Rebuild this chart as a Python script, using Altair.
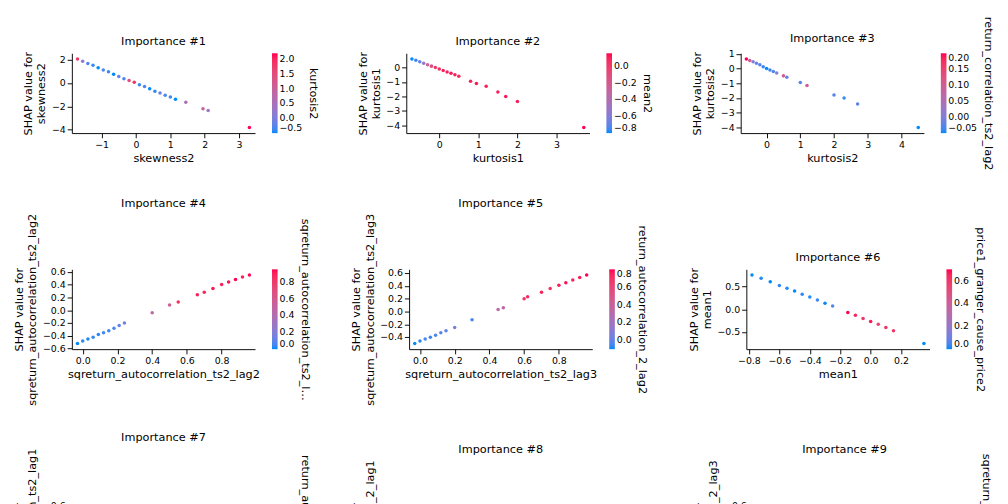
import altair as alt
import pandas as pd

# panel data: feature on x, SHAP value on y, interaction feature for colour
p1_x = [-1.7, -1.55, -1.4, -1.25, -1.1, -0.95, -0.8, -0.65, -0.5, -0.35, -0.2, -0.05, 0.1, 0.25, 0.4, 0.55, 0.7, 0.85, 1.0, 1.15, 1.45, 1.95, 2.1, 3.3]
p1_y = [2.05, 1.85, 1.65, 1.5, 1.3, 1.1, 0.95, 0.75, 0.55, 0.35, 0.2, 0.05, -0.15, -0.3, -0.5, -0.7, -0.85, -1.05, -1.2, -1.4, -1.65, -2.2, -2.35, -3.8]
p1_c = [1.8, 0.2, -0.3, -0.4, -0.5, -0.3, -0.4, -0.5, -0.2, -0.3, 1.5, 1.9, -0.4, -0.3, -0.5, -0.4, -0.2, -0.3, -0.4, -0.5, 0.6, 0.9, 0.3, 2.2]

p2_x = [-0.7, -0.6, -0.5, -0.4, -0.3, -0.2, -0.1, 0.0, 0.1, 0.2, 0.3, 0.4, 0.5, 0.8, 0.95, 1.2, 1.5, 1.7, 2.0, 3.7]
p2_y = [0.6, 0.5, 0.4, 0.3, 0.2, 0.1, 0.0, -0.1, -0.2, -0.3, -0.4, -0.5, -0.6, -0.95, -1.1, -1.3, -1.7, -2.0, -2.35, -4.15]
p2_c = [-0.8, -0.75, -0.7, -0.5, -0.3, -0.1, 0.0, 0.05, 0.1, 0.1, 0.12, 0.1, 0.08, 0.1, 0.12, 0.1, 0.1, 0.12, 0.1, 0.15]

p3_x = [-0.6, -0.5, -0.4, -0.3, -0.2, -0.1, 0.0, 0.1, 0.2, 0.3, 0.5, 0.6, 1.0, 1.2, 2.0, 2.3, 2.7, 4.5]
p3_y = [0.65, 0.55, 0.45, 0.35, 0.25, 0.12, 0.0, -0.1, -0.2, -0.3, -0.5, -0.6, -0.95, -1.15, -1.8, -2.0, -2.4, -4.0]
p3_c = [0.2, 0.1, 0.0, -0.02, -0.03, -0.04, -0.05, -0.04, -0.03, 0.0, 0.1, -0.02, -0.03, 0.1, -0.03, -0.04, -0.02, -0.05]

p4_x = [-0.03, 0.0, 0.03, 0.06, 0.09, 0.12, 0.15, 0.18, 0.21, 0.24, 0.4, 0.5, 0.55, 0.66, 0.7, 0.75, 0.8, 0.84, 0.88, 0.92, 0.96]
p4_y = [-0.52, -0.48, -0.45, -0.42, -0.38, -0.35, -0.32, -0.28, -0.24, -0.2, -0.04, 0.08, 0.13, 0.24, 0.28, 0.34, 0.4, 0.44, 0.48, 0.52, 0.55]
p4_c = [0.0, 0.02, 0.01, 0.03, 0.02, 0.05, 0.04, 0.06, 0.1, 0.15, 0.45, 0.55, 0.85, 0.9, 0.88, 0.92, 0.9, 0.93, 0.95, 0.9, 0.94]

p5_x = [-0.03, 0.0, 0.03, 0.06, 0.09, 0.12, 0.15, 0.2, 0.3, 0.45, 0.48, 0.6, 0.62, 0.7, 0.75, 0.8, 0.84, 0.88, 0.92, 0.96]
p5_y = [-0.5, -0.46, -0.43, -0.4, -0.37, -0.33, -0.3, -0.25, -0.13, 0.03, 0.06, 0.2, 0.23, 0.3, 0.36, 0.41, 0.45, 0.49, 0.53, 0.57]
p5_c = [-0.1, -0.08, -0.05, -0.06, -0.04, -0.02, 0.0, 0.05, -0.05, 0.3, 0.35, 0.7, 0.72, 0.75, 0.7, 0.76, 0.78, 0.74, 0.76, 0.8]

p6_x = [-0.78, -0.72, -0.66, -0.6, -0.55, -0.5, -0.45, -0.4, -0.35, -0.3, -0.25, -0.15, -0.1, -0.05, 0.0, 0.05, 0.1, 0.15, 0.35]
p6_y = [0.75, 0.68, 0.6, 0.52, 0.46, 0.4, 0.33, 0.27, 0.2, 0.13, 0.07, -0.07, -0.13, -0.2, -0.27, -0.33, -0.4, -0.47, -0.75]
p6_c = [0.0, 0.01, 0.0, 0.02, 0.01, 0.0, 0.02, 0.01, 0.03, 0.0, 0.05, 0.7, 0.65, 0.6, 0.68, 0.55, 0.62, 0.6, 0.0]

p7_x = [0.0, 0.03, 0.06, 0.09, 0.12, 0.15, 0.2, 0.25, 0.3, 0.45, 0.55, 0.6, 0.7, 0.75, 0.8, 0.84, 0.88, 0.92, 0.96]
p7_y = [-0.45, -0.42, -0.39, -0.36, -0.33, -0.3, -0.25, -0.2, -0.15, 0.0, 0.1, 0.16, 0.26, 0.31, 0.37, 0.41, 0.45, 0.5, 0.54]
p7_c = [-0.05, -0.08, -0.06, -0.04, -0.05, -0.03, -0.02, 0.0, 0.02, 0.35, 0.7, 0.72, 0.75, 0.7, 0.78, 0.74, 0.76, 0.75, 0.8]

p8_x = [-0.12, -0.08, -0.04, 0.0, 0.04, 0.08, 0.12, 0.2, 0.3, 0.4, 0.45, 0.5, 0.55, 0.6, 0.65, 0.7, 0.75, 0.8, 0.9]
p8_y = [-0.4, -0.37, -0.33, -0.3, -0.27, -0.23, -0.2, -0.12, -0.05, 0.05, 0.1, 0.15, 0.2, 0.27, 0.32, 0.37, 0.43, 0.5, 0.62]
p8_c = [0.15, 0.1, 0.12, 0.1, 0.08, 0.1, 0.05, -0.2, -0.3, -0.5, -0.55, -0.6, -0.65, -0.7, -0.75, -0.8, -0.82, -0.8, -0.85]

p9_x = [-0.1, -0.06, -0.02, 0.02, 0.06, 0.1, 0.15, 0.2, 0.3, 0.35, 0.4, 0.5, 0.55, 0.6, 0.65, 0.7, 0.75, 0.8, 0.85]
p9_y = [-0.38, -0.34, -0.3, -0.26, -0.22, -0.18, -0.14, -0.08, 0.02, 0.06, 0.1, 0.2, 0.25, 0.3, 0.35, 0.4, 0.44, 0.48, 0.55]
p9_c = [-0.05, -0.03, 0.0, -0.02, 0.0, 0.02, -0.03, 0.1, 0.3, 0.4, 0.5, 0.7, 0.72, 0.75, 0.7, 0.78, 0.76, 0.75, 0.8]

panels = [
    (p1_x, p1_y, p1_c, "skewness2", "kurtosis2"),
    (p2_x, p2_y, p2_c, "kurtosis1", "mean2"),
    (p3_x, p3_y, p3_c, "kurtosis2", "return_correlation_ts2_lag2"),
    (p4_x, p4_y, p4_c, "sqreturn_autocorrelation_ts2_lag2", "sqreturn_autocorrelation_ts2_lag3"),
    (p5_x, p5_y, p5_c, "sqreturn_autocorrelation_ts2_lag3", "return_autocorrelation_2_lag2"),
    (p6_x, p6_y, p6_c, "mean1", "price1_granger_cause_price2"),
    (p7_x, p7_y, p7_c, "sqreturn_autocorrelation_ts2_lag1", "return_autocorrelation_ts2_lag1"),
    (p8_x, p8_y, p8_c, "return_autocorrelation_2_lag1", "mean2"),
    (p9_x, p9_y, p9_c, "return_autocorrelation_2_lag3", "sqreturn_autocorrelation_2_lag3"),
]

charts = []
for i, (xs, ys, cs, feat, inter) in enumerate(panels):
    df = pd.DataFrame({"x": xs, "y": ys, "c": cs})
    ch = alt.Chart(df, title=f"Importance #{i + 1}").mark_circle(size=14, opacity=1).encode(
        x=alt.X("x:Q", title=feat, scale=alt.Scale(zero=False, nice=False, padding=6)),
        y=alt.Y("y:Q", title=["SHAP value for", feat], scale=alt.Scale(zero=False, nice=False, padding=6)),
        color=alt.Color("c:Q", title=inter,
                        scale=alt.Scale(range=["#008afb", "#ff0052"], interpolate="lab"),
                        legend=alt.Legend(gradientLength=85, gradientThickness=6, titleOrient="right",
                                          tickCount=4, titleFontWeight="normal",
                                          titleFontSize=12, labelFontSize=10, titleLimit=200)),
    ).properties(width=195, height=85)
    charts.append(ch)

rows = [alt.hconcat(*charts[r * 3:r * 3 + 3], spacing=40).resolve_scale(color="independent")
        for r in range(3)]
chart = alt.vconcat(*rows, spacing=28).resolve_scale(color="independent").configure(
    font="DejaVu Sans"
).configure_view(stroke=None).configure_axis(
    grid=False, domainColor="black", tickColor="black", labelColor="black", titleColor="black",
    labelFontSize=10, titleFontSize=12, titleFontWeight="normal", tickCount=4
).configure_title(fontSize=12, fontWeight="normal")

chart.save("out.html", embed_options={"renderer": "svg", "actions": False})
